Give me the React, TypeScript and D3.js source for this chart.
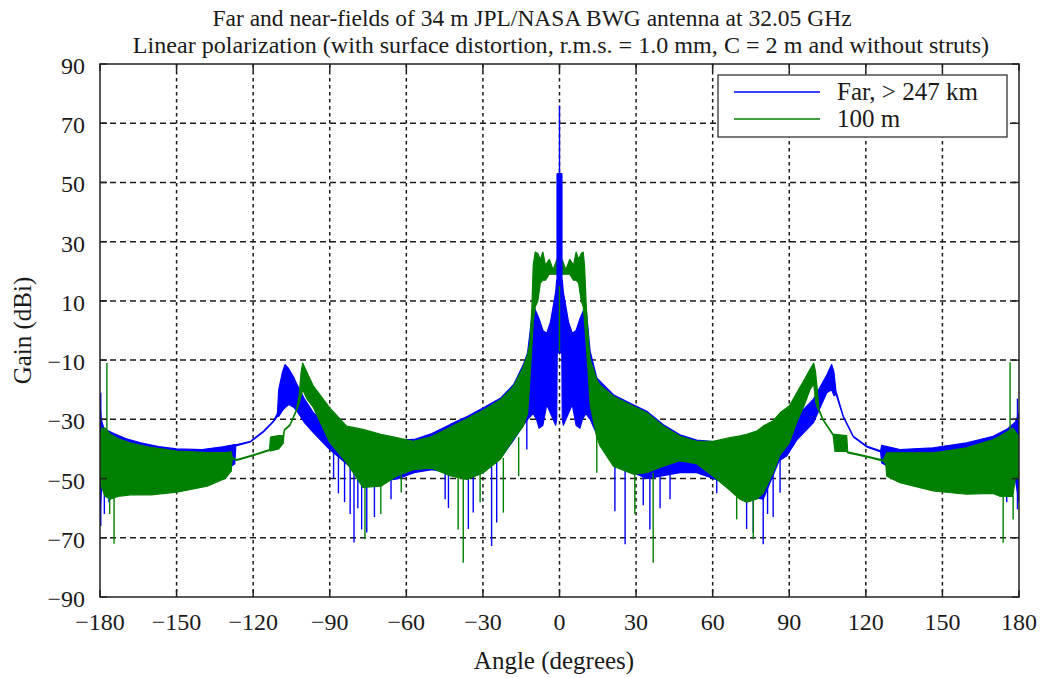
import React from 'react';
import * as d3 from 'd3';

const TITLE_LINE_1 = 'Far and near-fields of 34 m JPL/NASA BWG antenna at 32.05 GHz';
const TITLE_LINE_2 = 'Linear polarization (with surface distortion, r.m.s. = 1.0 mm, C = 2 m and without struts)';
const X_LABEL = 'Angle (degrees)';
const Y_LABEL = 'Gain (dBi)';
const SERIES_NAMES = ['Far, > 247 km', '100 m'];
const SERIES_COLORS = ['#0000ff', '#008000'];

const xTicks = [-180, -150, -120, -90, -60, -30, 0, 30, 60, 90, 120, 150, 180];
const yTicks = [90, 70, 50, 30, 10, -10, -30, -50, -70, -90];

// [angle, upper envelope (dBi), lower envelope (dBi)]
const farEnvelope: [number, number, number][] = [
  [-180, -25, -62], [-179.5, -30, -55], [-178.5, -33, -50], [-177, -33.8, -55],
  [-175, -34.6, -50], [-170, -36.5, -53], [-164, -37.9, -54], [-157, -39.2, -54],
  [-150, -40, -53], [-140, -40.2, -51], [-132, -39.3, -48], [-127.2, -38.5, -45],
  [-126.8, -38.6, -39], [-121, -37.4, -37.6], [-116, -34, -34.3], [-112, -30.5, -30.8],
  [-110.5, -28, -29], [-110, -20, -29], [-108.5, -14, -27], [-107.5, -11.5, -26],
  [-106, -13, -25], [-104, -16, -26], [-103, -18, -27], [-100, -23, -31],
  [-96.4, -27.8, -34.5], [-90, -32.3, -40.2], [-83.4, -34.6, -45], [-77, -35.5, -50],
  [-70, -36.3, -51], [-63, -37, -50], [-57, -36.8, -48], [-50, -34.8, -47],
  [-43, -31.8, -48], [-36, -29, -50], [-30, -26.2, -48], [-23, -22.8, -43],
  [-18, -18.3, -37], [-14.2, -11.6, -32], [-12.5, -7.5, -30], [-10.3, 8.5, -28],
  [-9, 6, -30], [-8, 4, -33], [-6.5, 0, -32], [-5, -1, -25], [-3.5, 3, -28],
  [-2.5, 8, -30], [-1.5, 13, -32], [-1.1, 17, -30], [-0.9, 17, -7.5],
  [0.9, 17, -7.5], [1.1, 17, -30], [1.5, 13, -32], [2.5, 8, -30], [3.5, 3, -28],
  [5, -1, -25], [6.5, 0, -32], [8, 4, -33], [9, 6, -30], [10.3, 8.5, -28],
  [12, -7, -30], [14.6, -16, -35], [21.1, -21.7, -45], [28.9, -25.1, -48],
  [34.2, -27.3, -50], [40.7, -31.8, -49], [47.2, -35.2, -48], [53.7, -37, -48],
  [60.2, -37.5, -50], [66.8, -36.8, -52], [73.3, -36, -56], [79.8, -35, -57],
  [86, -37, -44], [89, -35.7, -42.4], [92.9, -29, -37], [99.4, -23.3, -31.2],
  [104.7, -15, -21], [106.6, -11.5, -20], [107.5, -14, -22], [108.3, -20.5, -21.5],
  [111.2, -29, -29.3], [115.1, -35.7, -36], [120.3, -39, -39.3], [125.8, -40.6, -41],
  [126.2, -38.8, -44.7], [133.4, -40.2, -48], [146.4, -39.6, -50], [159.5, -37.9, -51],
  [169.9, -35.7, -52], [175.2, -33.4, -52], [178.5, -31, -50], [180, -28, -58],
];

const nearEnvelope: [number, number, number][] = [
  [-180, -36, -50], [-179.3, -33, -53], [-178, -33, -56], [-176, -35, -57],
  [-173, -36.5, -56], [-168, -38, -55.5], [-160, -39.5, -55.5], [-150, -40.7, -54.6],
  [-138, -41.2, -52.6], [-131, -41.2, -50], [-128.6, -41, -47.5], [-128.2, -42.8, -43.2],
  [-126.4, -43.6, -43.9], [-120, -42, -42.3], [-113.6, -40.2, -40.5], [-113.2, -36, -40.7],
  [-110, -35.5, -40], [-108.2, -35.5, -38], [-107.8, -33.5, -33.8], [-105.6, -31.8, -32.1],
  [-103, -26.7, -27], [-102, -22, -24.5], [-101.2, -14, -22], [-100.6, -11, -20],
  [-99, -14, -23], [-96.4, -18.8, -26], [-90, -26.1, -37.8], [-83.4, -32.3, -44.6],
  [-77, -33.4, -53], [-70, -35.1, -52.6], [-63.8, -36.2, -49.2], [-57.3, -37.4, -47],
  [-50, -35.8, -46.5], [-43, -32.8, -49], [-36.3, -29.8, -50.3], [-29.8, -26.9, -48],
  [-23.3, -23.5, -43.6], [-18.1, -19, -36.8], [-14.2, -12.3, -32.3], [-12.5, -8, -28],
  [-11.6, -4.2, -16.6], [-10.8, 8, -5], [-10.3, 22, 3], [-9.5, 26.5, 8],
  [-8.5, 26, 10], [-7.5, 24, 16], [-6.5, 26.5, 17], [-5.5, 22, 17], [-4, 24, 19],
  [-2.5, 20.5, 19], [-1, 24, 19], [0, 21, 19], [1, 24, 19], [2.5, 20.5, 19],
  [4, 24, 19], [5.5, 22, 17], [6.5, 26.5, 17], [7.5, 24, 16], [8.5, 26, 10],
  [9.3, 26.5, 8], [9.8, 22, 3], [10.5, 8, -5], [11.4, -4, -16.6], [12, -9.8, -25],
  [14.6, -16.6, -36], [15.9, -18.5, -39], [21.1, -22.2, -45.8], [28.9, -25.6, -48.5],
  [34.2, -27.8, -48], [40.7, -32.3, -45.8], [47.2, -35.7, -44], [53.7, -37.4, -45],
  [60.2, -37.4, -49.2], [66.8, -36.2, -54], [70.7, -35.6, -57], [73.3, -35.1, -58],
  [77.2, -34, -57], [79.8, -32.3, -55], [83.7, -30.5, -48], [86.4, -27.8, -42],
  [90, -25.5, -38], [92.9, -21.1, -31], [96, -16.5, -25], [98.1, -13.2, -20],
  [99.6, -11, -18], [100.3, -14, -24], [101, -20, -26], [101.6, -26.5, -27],
  [103.3, -30.1, -30.4], [107.2, -35.1, -35.4], [107.9, -35.1, -40.8], [112.5, -35.5, -40.8],
  [112.9, -41, -41.3], [120.3, -42.4, -42.7], [126.8, -43.8, -44.1], [127.8, -42, -45],
  [128.2, -41.3, -49.2], [133.4, -41.3, -51.4], [146.4, -41.3, -54.2], [159.5, -39.6, -55.3],
  [169.9, -36.8, -55], [172.5, -35.7, -56], [177.6, -33, -56], [178.5, -34, -50],
  [180, -36, -50],
];

// main beam of the far field: [angle, top, bottom]
const farBeam: [number, number, number][] = [[-1, 53, -7.5], [1, 53, -7.5]];

// isolated deep nulls / peaks: [angle, from, to]
const farSpikes: [number, number, number][] = [
  [0, 53, 76], [-179.7, -21, -66], [-178.3, -40, -62], [-176.5, -45, -58],
  [-88.5, -41, -50], [-86.6, -42, -55], [-84.2, -44, -58], [-82, -45, -62], [-80.5, -46, -71.6],
  [-79, -47, -60], [-77.5, -48, -67.2], [-75.5, -48, -68.2], [-72.5, -49, -63], [-66, -50, -57],
  [-44.8, -46, -57], [-43.5, -46, -60], [-35.7, -48, -67], [-33.8, -48, -61.5],
  [-26.6, -46, -72.8], [-24.6, -44, -64.8], [-12.8, -30, -40.2],
  [21.7, -44, -61], [25.7, -46, -72.2], [32.8, -48, -59], [35.4, -48, -67.2],
  [39.4, -48, -60], [43.3, -48, -57], [61.6, -49, -55], [73.3, -55, -67],
  [75.9, -55, -68.3], [79.8, -55, -72.2], [81.5, -52, -62], [83.7, -48, -63], [86.4, -43, -54.8],
  [175.2, -50, -58], [179.4, -23, -60.4],
];

const nearSpikes: [number, number, number][] = [
  [0, 15, -7], [-177.3, -11, -34], [-174.5, -55, -72], [-176.2, -55, -62],
  [-76.2, -52, -70.5], [-70, -52, -62], [-62, -49, -54.7], [-39.7, -49, -67.2],
  [-37.7, -49, -78.4], [-31.1, -48, -58], [-22, -43, -61.5], [-16, -36, -49.2],
  [14.6, -36, -48], [29.5, -48, -62], [36.7, -48, -78.4], [69.4, -56, -63.8],
  [75.9, -57, -70.5], [173.8, -55, -71.7], [176.5, -10.7, -34], [177.7, -56, -63.8],
];

const W = 1040;
const H = 678;
const FONT = "'Liberation Serif', 'Times New Roman', Times, serif";

const fmt = (v: number) => (v < 0 ? '\u2212' + Math.abs(v) : String(v));

export default function App() {
  const plot = { left: 100, right: 1019, top: 64, bottom: 597 };
  const x = d3.scaleLinear().domain([-180, 180]).range([plot.left, plot.right]);
  const y = d3.scaleLinear().domain([-90, 90]).range([plot.bottom, plot.top]);

  const area = d3
    .area<[number, number, number]>()
    .x((d) => x(d[0]))
    .y0((d) => y(d[2]))
    .y1((d) => y(d[1]));

  const spikeLines = (data: [number, number, number][], color: string, key: string) =>
    data.map((d, i) => (
      <line
        key={key + i}
        x1={x(d[0])}
        x2={x(d[0])}
        y1={y(d[1])}
        y2={y(d[2])}
        stroke={color}
        strokeWidth={1.4}
      />
    ));

  const gridColor = '#1a1a1a';

  return (
    <svg
      width={W}
      height={H}
      style={{ position: 'absolute', left: 0, top: 0, background: '#fff' }}
      fontFamily={FONT}
    >
      <defs>
        <clipPath id="plotClip">
          <rect x={plot.left} y={plot.top} width={plot.right - plot.left} height={plot.bottom - plot.top} />
        </clipPath>
      </defs>

      {/* grid */}
      {xTicks.slice(1, -1).map((t) => (
        <line key={'gx' + t} x1={x(t)} x2={x(t)} y1={plot.top} y2={plot.bottom}
          stroke={gridColor} strokeWidth={1.5} strokeDasharray="3.5,3.5" />
      ))}
      {yTicks.slice(1, -1).map((t) => (
        <line key={'gy' + t} x1={plot.left} x2={plot.right} y1={y(t)} y2={y(t)}
          stroke={gridColor} strokeWidth={1.5} strokeDasharray="6,4" />
      ))}

      {/* data */}
      <g clipPath="url(#plotClip)">
        <path d={area(farEnvelope) || ''} fill={SERIES_COLORS[0]} stroke={SERIES_COLORS[0]} strokeWidth={1.2} strokeLinejoin="round" />
        {spikeLines(farSpikes.slice(1), SERIES_COLORS[0], 'fs')}
        <path d={area(nearEnvelope) || ''} fill={SERIES_COLORS[1]} stroke={SERIES_COLORS[1]} strokeWidth={1.2} strokeLinejoin="round" />
        {spikeLines(nearSpikes.slice(1), SERIES_COLORS[1], 'ns')}
        <path d={area(farBeam) || ''} fill={SERIES_COLORS[0]} stroke={SERIES_COLORS[0]} strokeWidth={1} />
        {spikeLines(farSpikes.slice(0, 1), SERIES_COLORS[0], 'fb')}
        {spikeLines(nearSpikes.slice(0, 1), SERIES_COLORS[1], 'nb')}
      </g>

      {/* frame and ticks */}
      <rect x={plot.left} y={plot.top} width={plot.right - plot.left} height={plot.bottom - plot.top}
        fill="none" stroke="#222" strokeWidth={1.5} />
      {xTicks.map((t) => (
        <g key={'tx' + t}>
          <line x1={x(t)} x2={x(t)} y1={plot.bottom} y2={plot.bottom - 7} stroke="#222" strokeWidth={1.5} />
          <line x1={x(t)} x2={x(t)} y1={plot.top} y2={plot.top + 7} stroke="#222" strokeWidth={1.5} />
          <text x={x(t)} y={630} textAnchor="middle" fontSize={24} fill="#1a1a1a">{fmt(t)}</text>
        </g>
      ))}
      {yTicks.map((t) => (
        <g key={'ty' + t}>
          <line x1={plot.left} x2={plot.left + 7} y1={y(t)} y2={y(t)} stroke="#222" strokeWidth={1.5} />
          <line x1={plot.right} x2={plot.right - 7} y1={y(t)} y2={y(t)} stroke="#222" strokeWidth={1.5} />
          <text x={85} y={y(t) + 10} textAnchor="end" fontSize={24} fill="#1a1a1a">{fmt(t)}</text>
        </g>
      ))}

      {/* titles */}
      <text x={532} y={26} textAnchor="middle" fontSize={23.5} fill="#1a1a1a">{TITLE_LINE_1}</text>
      <text x={561} y={53} textAnchor="middle" fontSize={24.1} fill="#1a1a1a">{TITLE_LINE_2}</text>
      <text x={554} y={669} textAnchor="middle" fontSize={25} fill="#1a1a1a">{X_LABEL}</text>
      <text transform={`translate(31, ${(plot.top + plot.bottom) / 2}) rotate(-90)`} textAnchor="middle" fontSize={25} fill="#1a1a1a">{Y_LABEL}</text>

      {/* legend */}
      <g>
        <rect x={718} y={75} width={289} height={62} fill="#fff" stroke="#222" strokeWidth={1.2} />
        {SERIES_NAMES.map((name, i) => (
          <g key={name}>
            <line x1={734} x2={820} y1={92 + i * 27} y2={92 + i * 27} stroke={SERIES_COLORS[i]} strokeWidth={1.4} />
            <text x={837} y={100 + i * 27} fontSize={25} fill="#1a1a1a">{name}</text>
          </g>
        ))}
      </g>
    </svg>
  );
}
